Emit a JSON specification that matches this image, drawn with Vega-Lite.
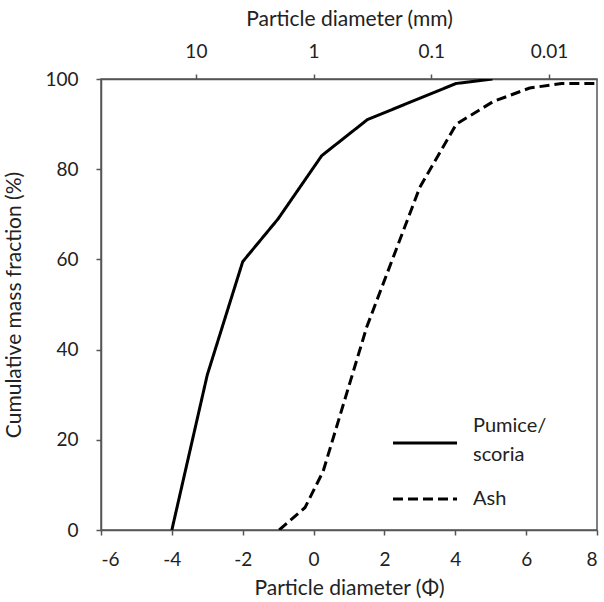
{
  "$schema": "https://vega.github.io/schema/vega-lite/v6.json",
  "width": 496,
  "height": 451,
  "autosize": "none",
  "padding": {"left": 101, "top": 79, "right": 7, "bottom": 72},
  "background": "white",
  "config": {
    "font": "Lato",
    "view": {"stroke": "#555555", "strokeWidth": 1.5},
    "axis": {
      "domainColor": "#555555", "domainWidth": 1.5,
      "tickColor": "#555555", "tickWidth": 1.5, "tickSize": 5,
      "labelFont": "Lato", "labelFontSize": 19, "labelColor": "#222222",
      "titleFont": "Lato", "titleFontSize": 21, "titleFontWeight": "normal", "titleColor": "#222222",
      "grid": false
    }
  },
  "data": {"values": [
    {"phi": -4, "pct": 0, "series": "Pumice/scoria"},
    {"phi": -3, "pct": 34.4, "series": "Pumice/scoria"},
    {"phi": -2, "pct": 59.5, "series": "Pumice/scoria"},
    {"phi": -1, "pct": 69, "series": "Pumice/scoria"},
    {"phi": 0.23, "pct": 83, "series": "Pumice/scoria"},
    {"phi": 1.52, "pct": 91, "series": "Pumice/scoria"},
    {"phi": 4.02, "pct": 99, "series": "Pumice/scoria"},
    {"phi": 5.05, "pct": 100, "series": "Pumice/scoria"},
    {"phi": -0.97, "pct": 0, "series": "Ash"},
    {"phi": -0.24, "pct": 5, "series": "Ash"},
    {"phi": 0.27, "pct": 13, "series": "Ash"},
    {"phi": 1.5, "pct": 45, "series": "Ash"},
    {"phi": 3.0, "pct": 76, "series": "Ash"},
    {"phi": 4.03, "pct": 90, "series": "Ash"},
    {"phi": 5.07, "pct": 95, "series": "Ash"},
    {"phi": 6.1, "pct": 98, "series": "Ash"},
    {"phi": 7, "pct": 99, "series": "Ash"},
    {"phi": 8, "pct": 99, "series": "Ash"}
  ]},
  "resolve": {"axis": {"x": "independent"}},
  "layer": [
    {
      "mark": {"type": "line", "color": "black", "strokeWidth": 3, "clip": true},
      "encoding": {
        "x": {"field": "phi", "type": "quantitative",
              "scale": {"domain": [-6, 8], "nice": false, "zero": false},
              "axis": {"orient": "bottom", "values": [-6, -4, -2, 0, 2, 4, 6, 8],
                       "labelExpr": "'' + datum.value",
                       "title": "Particle diameter (Φ)", "labelPadding": 15, "titlePadding": 8}},
        "y": {"field": "pct", "type": "quantitative",
              "scale": {"domain": [0, 100], "nice": false},
              "axis": {"values": [0, 20, 40, 60, 80, 100], "title": "Cumulative mass fraction (%)",
                       "labelPadding": 18, "titlePadding": 20}},
        "strokeDash": {"field": "series", "type": "nominal",
                       "scale": {"domain": ["Pumice/scoria", "Ash"], "range": [[1, 0], [10, 5]]},
                       "legend": {"orient": "none", "legendX": 290, "legendY": 330,
                                  "title": null, "symbolType": "stroke", "symbolSize": 4100,
                                  "symbolStrokeWidth": 3, "symbolStrokeColor": "black",
                                  "labelFont": "Lato", "labelFontSize": 20, "labelColor": "#222222",
                                  "labelBaseline": "middle",
                                  "labelOffset": 14, "rowPadding": -12,
                                  "labelExpr": "datum.label == 'Pumice/scoria' ? ['Pumice/', 'scoria'] : datum.label",
                                  "encode": {"labels": {"update": {
                                    "lineHeight": {"value": 29},
                                    "dy": {"signal": "datum.value == 'Pumice/scoria' ? -17 : 0"}
                                  }}}}}
      }
    },
    {
      "mark": {"type": "line", "strokeOpacity": 0},
      "encoding": {
        "x": {"field": "phi", "type": "quantitative",
              "axis": {"orient": "top", "values": [-3.3219, 0, 3.3219, 6.6439],
                       "labelExpr": "datum.value < -1 ? '10' : datum.value < 1 ? '1' : datum.value < 5 ? '0.1' : '0.01'",
                       "title": "Particle diameter (mm)", "labelPadding": 13, "titlePadding": 13}},
        "y": {"field": "pct", "type": "quantitative"},
        "detail": {"field": "series", "type": "nominal"}
      }
    }
  ]
}
